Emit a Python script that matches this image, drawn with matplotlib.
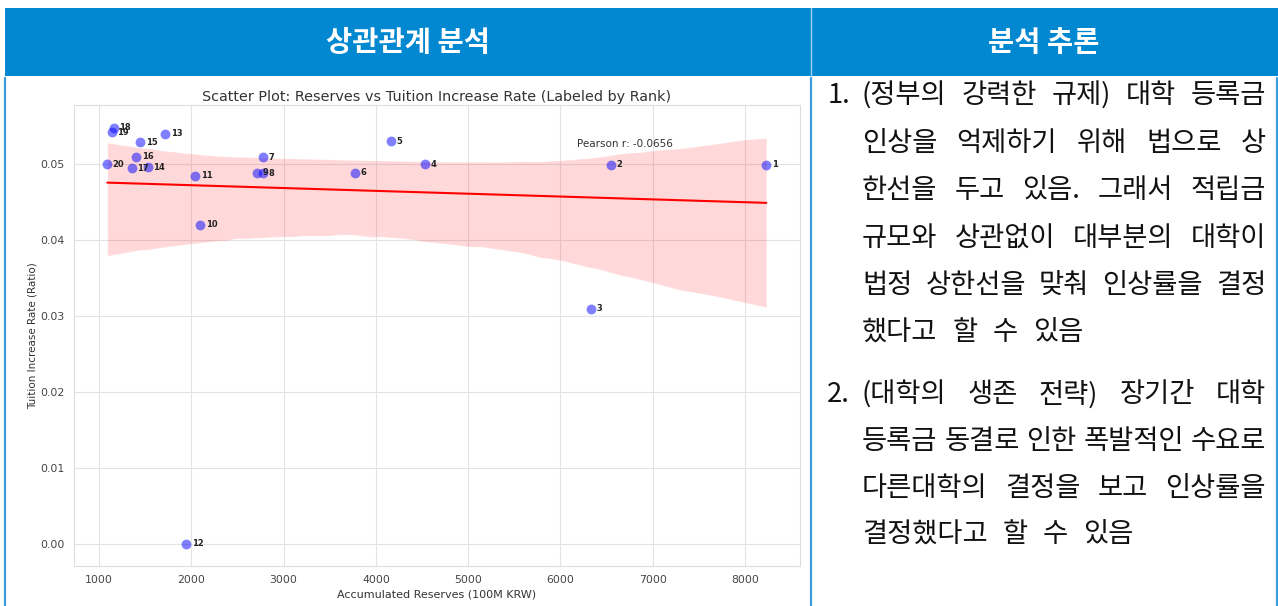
import matplotlib
matplotlib.use("Agg")
import matplotlib.pyplot as plt
import seaborn as sns
from matplotlib.patches import Rectangle
from matplotlib.lines import Line2D

# 순위별 적립금(억원)과 등록금 인상률
ranks = list(range(1, 21))
reserves = [8230, 6550, 6330, 4530, 4160, 3770, 2777, 2773, 2712, 2094,
            2043, 1943, 1718, 1527, 1444, 1404, 1357, 1159, 1137, 1090]
increase = [0.0499, 0.0499, 0.0310, 0.0500, 0.0530, 0.0489, 0.0509, 0.0488, 0.0489, 0.0420,
            0.0485, 0.0000, 0.0540, 0.0496, 0.0529, 0.0510, 0.0495, 0.0548, 0.0542, 0.0500]
x_ticks = [1000, 2000, 3000, 4000, 5000, 6000, 7000, 8000]
y_ticks = [0.00, 0.01, 0.02, 0.03, 0.04, 0.05]
pearson_label = "Pearson r: -0.0656"

header_left = "상관관계 분석"
header_right = "분석 추론"
para1 = [["(정부의", "강력한", "규제)", "대학", "등록금"],
         ["인상을", "억제하기", "위해", "법으로", "상"],
         ["한선을", "두고", "있음.", "그래서", "적립금"],
         ["규모와", "상관없이", "대부분의", "대학이"],
         ["법정", "상한선을", "맞춰", "인상률을", "결정"]]
para1_last = ["했다고", "할", "수", "있음"]
para2 = [["(대학의", "생존", "전략)", "장기간", "대학"],
         ["등록금", "동결로", "인한", "폭발적인", "수요로"],
         ["다른대학의", "결정을", "보고", "인상률을"]]
para2_last = ["결정했다고", "할", "수", "있음"]

sns.set_style("whitegrid")
plt.rcParams['font.family'] = ['DejaVu Sans', 'Noto Sans CJK KR']

W, H = 1278, 606
fig = plt.figure(figsize=(W / 100, H / 100), dpi=100)


def fx(px):
    return px / W


def fy(py):
    return 1 - py / H


# 표 머리글
fig.add_artist(Rectangle((fx(5), fy(76)), fx(1278) - fx(5), (76 - 8) / H,
                         transform=fig.transFigure, color='#0288D1', lw=0))
fig.add_artist(Line2D([fx(811), fx(811)], [fy(8), fy(76)], color='#9fd4f2', lw=1))
for xb in [5, 811, 1277]:
    fig.add_artist(Line2D([fx(xb), fx(xb)], [fy(78), 0], color='#3d9be0', lw=1.6))

kr = ['Noto Sans CJK KR', 'DejaVu Sans']
fig.text(fx(408), fy(43), header_left, ha='center', va='center', color='white',
         fontsize=20.5, fontweight='bold', family=kr)
fig.text(fx(1044), fy(43), header_right, ha='center', va='center', color='white',
         fontsize=20.5, fontweight='bold', family=kr)

# 산점도
ax = fig.add_axes([fx(74), fy(566), (800 - 74) / W, (566 - 105) / H])
sns.regplot(x=reserves, y=increase, scatter=False, color='red', ax=ax, seed=0,
            line_kws={'lw': 1.5})
ax.scatter(reserves, increase, s=50, color='blue', alpha=0.5, zorder=3, lw=0)
for r, xv, yv in zip(ranks, reserves, increase):
    ax.annotate(str(r), (xv, yv), xytext=(4, 0), textcoords='offset points',
                fontsize=6, fontweight='bold', va='center', color='#222222', zorder=4)

ax.text(0.693, 0.915, pearson_label, transform=ax.transAxes, fontsize=7.5,
        color='#333333', va='center')
ax.set_title("Scatter Plot: Reserves vs Tuition Increase Rate (Labeled by Rank)",
             fontsize=10.4, color='#333333', pad=3)
ax.set_xlabel("Accumulated Reserves (100M KRW)", fontsize=8, color='#333333', labelpad=3)
ax.set_ylabel("Tuition Increase Rate (Ratio)", fontsize=7.5, color='#333333', labelpad=2)
ax.set_xlim(729, 8595)
ax.set_ylim(-0.0029, 0.0578)
ax.set_xticks(x_ticks)
ax.set_yticks(y_ticks)
ax.set_yticklabels([f"{v:.2f}" for v in y_ticks])
ax.tick_params(labelsize=7.8, colors='#444444', pad=3)
ax.grid(True, color='#e3e3e3', lw=0.8)
for s in ax.spines.values():
    s.set_color('#dddddd')

# 분석 추론 (양쪽 정렬)
renderer = fig.canvas.get_renderer()
kw = dict(fontsize=19.7, family=kr, va='center', color='#111111')


def put_line(words, y, x0=862, x1=1266, gap=None):
    texts = [fig.text(fx(x0), fy(y), w, **kw) for w in words]
    widths = [t.get_window_extent(renderer).width for t in texts]
    if gap is None:
        gap = (x1 - x0 - sum(widths)) / (len(words) - 1)
    x = x0
    for t, w in zip(texts, widths):
        t.set_x(fx(x))
        x += w + gap


fig.text(fx(828), fy(95.7), "1.", **kw)
for words, y in zip(para1, [95.7, 143.3, 191, 238.3, 285.7]):
    put_line(words, y)
put_line(para1_last, 332.7, gap=15)

fig.text(fx(827), fy(395), "2.", **kw)
for words, y in zip(para2, [395, 441.7, 488.3]):
    put_line(words, y)
put_line(para2_last, 535, gap=15)

fig.savefig('out.png', dpi=100)
